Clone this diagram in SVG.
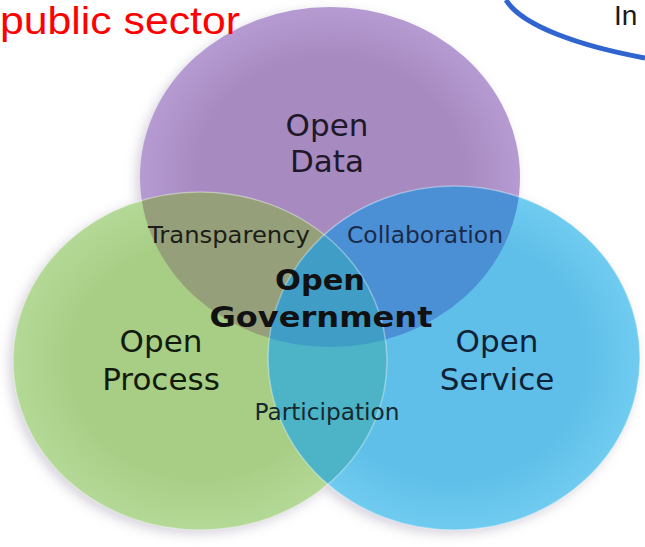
<svg xmlns="http://www.w3.org/2000/svg" width="645" height="547" viewBox="0 0 645 547">
<style>
.lbl{font-family:"DejaVu Sans",Verdana,sans-serif;text-anchor:middle}
.big{font-size:31px}
.small{font-size:23px}
.bold{font-size:28px;font-weight:bold;fill:#111}
.edge{fill:none;stroke:#ffffff;stroke-opacity:0.35;stroke-width:1.5}
</style>
<defs>
<filter id="shadow" x="-20%" y="-20%" width="140%" height="140%">
<feGaussianBlur stdDeviation="6"/>
</filter>
<radialGradient id="gP" cx="0.5" cy="0.5" r="0.5">
<stop offset="0.7" stop-color="#a68ac0"/>
<stop offset="1" stop-color="#b69bd2"/>
</radialGradient>
<radialGradient id="gG" cx="0.5" cy="0.5" r="0.5">
<stop offset="0.7" stop-color="#a8ce86"/>
<stop offset="1" stop-color="#b4d997"/>
</radialGradient>
<radialGradient id="gB" cx="0.5" cy="0.5" r="0.5">
<stop offset="0.7" stop-color="#5fbfe8"/>
<stop offset="1" stop-color="#70cbf0"/>
</radialGradient>
<clipPath id="cP"><ellipse cx="330" cy="177" rx="190" ry="170"/></clipPath>
<clipPath id="cG"><ellipse cx="200" cy="361" rx="187" ry="169"/></clipPath>
<clipPath id="cB"><ellipse cx="454" cy="358" rx="186" ry="172"/></clipPath>
</defs>
<rect width="645" height="547" fill="#ffffff"/>

<g id="shadows" filter="url(#shadow)" fill="#b9b4c4" opacity="0.6">
<ellipse cx="326" cy="181" rx="190" ry="170"/>
<ellipse cx="196" cy="365" rx="187" ry="169"/>
<ellipse cx="450" cy="362" rx="186" ry="172"/>
</g>

<g id="open-data">
<ellipse cx="330" cy="177" rx="190" ry="170" fill="url(#gP)"/>
</g>
<g id="open-process">
<ellipse cx="200" cy="361" rx="187" ry="169" fill="url(#gG)"/>
</g>
<g id="open-service">
<ellipse cx="454" cy="358" rx="186" ry="172" fill="url(#gB)"/>
</g>

<g id="overlaps">
<g clip-path="url(#cP)"><ellipse cx="200" cy="361" rx="187" ry="169" fill="#959f79"/></g>
<g clip-path="url(#cP)"><ellipse cx="454" cy="358" rx="186" ry="172" fill="#4b8fd5"/></g>
<g clip-path="url(#cG)"><ellipse cx="454" cy="358" rx="186" ry="172" fill="#4db3c6"/></g>
<g clip-path="url(#cP)"><g clip-path="url(#cG)"><ellipse cx="454" cy="358" rx="186" ry="172" fill="#3f9dc6"/></g></g>
<ellipse class="edge" cx="454" cy="358" rx="186" ry="172"/>
<ellipse class="edge" cx="200" cy="361" rx="187" ry="169"/>
</g>

<g id="labels-data">
<text class="lbl big" x="327" y="136" fill="#1e1828">Open</text>
<text class="lbl big" x="327" y="172" fill="#1e1828">Data</text>
</g>
<g id="labels-process">
<text class="lbl big" x="161" y="352" fill="#121a0c">Open</text>
<text class="lbl big" x="161" y="390" fill="#121a0c">Process</text>
</g>
<g id="labels-service">
<text class="lbl big" x="497" y="352" fill="#0f2236">Open</text>
<text class="lbl big" x="497" y="390" fill="#0f2236">Service</text>
</g>
<g id="transparency">
<text class="lbl small" x="229" y="243" fill="#1c1c18" textLength="162" lengthAdjust="spacingAndGlyphs">Transparency</text>
</g>
<g id="collaboration">
<text class="lbl small" x="425" y="243" fill="#1a2a4a" textLength="156" lengthAdjust="spacingAndGlyphs">Collaboration</text>
</g>
<g id="participation">
<text class="lbl small" x="327" y="420" fill="#152a30" textLength="145" lengthAdjust="spacingAndGlyphs">Participation</text>
</g>
<g id="open-government">
<text class="lbl bold" x="320" y="290" textLength="90" lengthAdjust="spacingAndGlyphs">Open</text>
<text class="lbl bold" x="321" y="327" textLength="223" lengthAdjust="spacingAndGlyphs">Government</text>
</g>

<g id="heading">
<text x="0" y="34" font-family="'Liberation Sans',Arial,sans-serif" font-size="38" fill="#ff0000" textLength="240" lengthAdjust="spacingAndGlyphs">public sector</text>
</g>
<g id="corner">
<path d="M 506 0 C 522 26 580 46 645 58" fill="none" stroke="#3065d0" stroke-width="5"/>
<text x="614" y="25" font-family="'Liberation Sans',Arial,sans-serif" font-size="28" fill="#1a1a1a">In</text>
</g>
</svg>
